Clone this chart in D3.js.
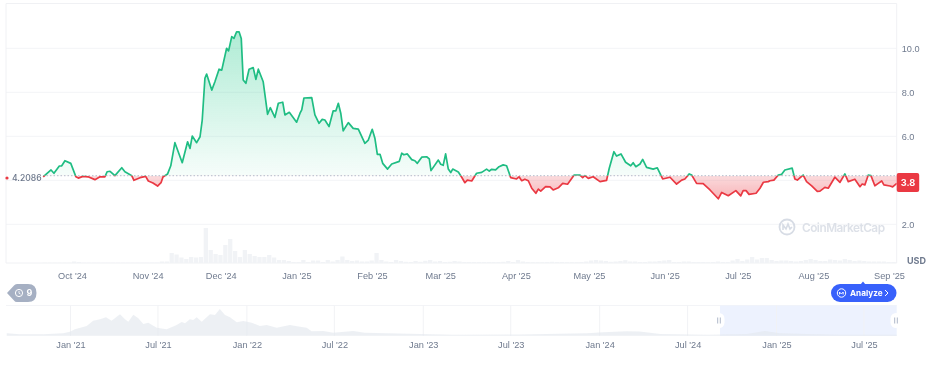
<!DOCTYPE html>
<html>
<head>
<meta charset="utf-8">
<script src="https://cdn.jsdelivr.net/npm/d3@7/dist/d3.min.js"></script>
<style>
  html, body { margin: 0; padding: 0; background: #fff; }
  svg { display: block; filter: blur(0.5px); font-family: Inter, "Noto Sans", sans-serif; }
  .tick text { fill: #6f7a8e; font-size: 9.2px; font-weight: 500; }
</style>
</head>
<body>
<div id="chart"></div>
<script>
// price readings: days counted from 1 Oct 2024, value in USD
const priceDays = [-11.8,-8.6,-7.4,-5.2,-4.2,-2.9,-0.5,1.6,2.6,4.5,6.6,9.4,11.5,13.5,14.4,15.6,17.6,20.4,21.7,24.5,25.4,27.9,30.2,31.3,33.2,35.1,36.5,37.3,39.2,40.5,42.2,45.2,47.4,48.4,49.3,51.1,52.5,53.4,54.5,55.2,57.3,58.6,60.3,61.4,63.4,64.2,65.5,66.4,67.5,68.5,69.4,70.2,71.3,72.6,74.3,75.4,76.4,78.4,80.2,81.3,83.2,84.6,86.4,87.3,89.1,92.1,93.5,94.2,95.1,98.3,99.6,101.3,102.6,103.7,105.4,107.1,108.2,109.2,110.2,111.2,113.3,115.3,117.4,120.1,121.5,123.1,124.2,125.2,126.3,127.4,129.4,131.1,134.2,135.2,136.1,137.5,139.3,140.6,141.6,143.4,145.4,146.5,147.2,150.2,151.2,152.2,153.2,154.3,155.3,156.1,158.4,159.8,161.1,162.1,163.9,165.9,168.0,170.0,171.1,172.1,173.7,175.1,176.8,178.2,179.9,182.3,183.3,184.4,185.7,187.1,188.5,190.2,191.2,192.2,194.2,196.0,197.3,199.4,201.2,203.2,205.9,208.3,209.4,210.3,211.7,213.7,216.5,219.2,220.3,222.2,223.3,225.1,227.0,229.1,230.1,231.2,232.9,234.0,235.6,238.3,240.0,242.2,245.2,247.9,250.0,251.3,253.1,254.1,256.1,258.8,261.6,265.0,266.4,269.1,272.2,274.2,275.2,276.4,277.6,280.5,282.1,283.5,285.5,286.2,287.8,289.6,291.0,292.3,295.3,296.4,297.4,299.8,301.2,303.3,305.6,306.7,308.7,310.1,312.8,314.9,316.9,318.3,321.0,323.1,324.0,325.1,326.5,327.6,329.2,330.6,332.0,332.9,335.4,336.5,338.2];
const priceValues = [4.16,4.47,4.32,4.65,4.66,4.89,4.77,4.16,4.10,4.18,4.16,4.03,4.16,4.16,4.39,4.41,4.21,4.57,4.39,4.21,4.00,4.12,4.18,3.97,3.88,3.74,3.89,4.15,4.29,4.66,5.71,4.80,5.75,5.45,6.01,5.71,5.98,6.74,8.64,8.83,8.10,8.48,9.05,9.01,10.00,9.88,10.53,10.45,10.75,10.75,10.45,8.56,8.41,9.05,9.12,8.59,9.05,8.48,7.00,7.30,6.86,7.50,7.55,6.97,7.09,6.64,7.05,7.20,7.74,7.76,6.97,6.59,6.77,6.74,6.44,7.16,7.16,7.50,7.05,6.25,6.62,6.36,6.33,5.68,5.83,6.32,5.91,5.18,5.18,4.77,4.51,4.74,4.86,5.23,5.16,5.20,4.94,4.89,4.77,5.05,5.07,4.97,4.44,4.92,4.73,4.68,5.20,4.51,4.35,4.51,4.38,4.14,3.89,4.01,3.97,4.32,4.36,4.51,4.42,4.50,4.47,4.62,4.70,4.66,4.12,4.06,4.16,3.98,4.05,3.98,3.64,3.41,3.60,3.51,3.71,3.70,3.56,3.66,3.86,3.82,4.24,4.24,4.12,4.21,4.09,4.16,3.94,4.00,4.55,5.30,5.10,5.20,4.82,4.66,4.80,4.62,4.74,4.95,4.59,4.51,4.57,4.06,4.14,3.83,4.01,4.06,4.29,4.24,3.86,3.85,3.56,3.16,3.45,3.30,3.53,3.29,3.53,3.53,3.36,3.41,3.64,3.91,3.94,3.98,4.01,4.24,4.27,4.47,4.55,4.06,4.01,4.24,3.94,3.75,3.50,3.51,3.68,3.64,4.14,3.91,4.29,3.94,4.05,3.71,3.83,3.79,4.24,4.21,3.75,3.86,3.97,3.79,3.74,3.70,3.86];

// volume readings in relative units, one bar per two days from day -12
const volumes = [.3,.3,.3,.3,.3,.3,1.5,1,.4,.4,.4,.4,.4,.4,.4,.4,.4,.4,.4,.4,.4,.4,.5,.5,1.5,1.5,10,8.5,5.5,4,6,5.5,6,35,13,9,8,18,24,12,6,13,9,7,6,6,8,5.5,3,3,2,1,1,3,1,2.5,2.5,1,3,1.5,3,6.5,3,2,2.5,1.5,1.5,2.5,10,3,1.5,1,3,2,1.2,1,2,1.2,2.2,3,1.5,2,1,1.2,2,1.5,1,1,1,1,1,1,1,1,1.2,2,1,3,1.5,1,.8,.8,.8,1,1.2,1,1,.8,.8,.8,1,1.5,2.5,3,2.5,2,1.2,1.5,2,2.8,1.5,1.5,1,1,1.5,1.5,2,2.5,3,1,1,1.5,1.5,1,1,1,.8,1,1.5,1,1,2.5,4,2,3.5,6,3.5,5,5,3,2,2.5,2.5,2,1.5,2,3,4,3,2,2,3.5,3,2.5,4,3,2,2.5,2,1.5,1.5,1.5,1.5,1,1];

// overview readings: days counted from 1 Jan 2021, value in USD
const overviewDays = [-132,-104.5,-56,-15,-1,9,33.5,47,61,73.5,85,102.4,112.8,119.6,130,140.3,150.6,161,178.4,199,219.7,230,237,247,254,261,271.5,288.6,299,309,319.7,330,344,357.5,375,392,406,426.6,454,475,488.7,499,523,544,585,609,655,723,792,930,1069,1102,1151,1178,1220,1317,1400,1437,1468,1524,1592,1710];
const overviewValues = [4.7,2.7,2.7,4.7,8,12.7,19.3,30,32.7,36.7,30,42.7,32.7,28,42,34.7,23.3,26,16,12.7,21.3,27.3,24.7,32.7,31.3,36.7,28,42.7,41.3,53.3,41.3,36.7,26.7,29.3,26,19.3,21.3,16,21.3,18,16,8.7,9.3,6,9.2,6,4.7,3.4,2,2.6,4.7,6.7,8.7,8.5,3.4,2,3.4,9.4,4.7,3.4,2,2];

const monthTicks = ["2024-10-01","2024-11-01","2024-12-01","2025-01-01","2025-02-01","2025-03-01","2025-04-01","2025-05-01","2025-06-01","2025-07-01","2025-08-01","2025-09-01"];
const overviewTicks = ["2021-01-01","2021-07-01","2022-01-01","2022-07-01","2023-01-01","2023-07-01","2024-01-01","2024-07-01","2025-01-01","2025-07-01"];
const yTicks = [2, 6, 8, 10];
const gridTicks = [2, 4, 6, 8, 10];
const basePrice = 4.2086;
const lastPrice = "3.8";

const DAY = 86400000;
const priceStart = Date.UTC(2024, 9, 1);
const overviewStart = Date.UTC(2021, 0, 1);

const plotLeft = 6, plotRight = 896.7, plotTop = 3.5, plotBottom = 263;
const green = "#1fbd83", red = "#ea3943", grid = "#f3f4f7";

const svg = d3.select("#chart").append("svg").attr("width", 940).attr("height", 369);

const x = d3.scaleUtc()
  .domain([new Date("2024-10-01"), new Date("2025-09-01")])
  .range([72, 889]);
const y = d3.scaleLinear().domain([2, 10]).range([224.3, 48.3]);
const yVol = d3.scaleLinear().domain([0, 40]).range([plotBottom, plotBottom - 40]);

const xo = d3.scaleUtc()
  .domain([new Date("2021-01-01"), new Date("2025-07-01")])
  .range([70.5, 864]);
const yo = d3.scaleLinear().domain([0, 60]).range([335.7, 305.7]);

const data = priceDays.map((d, i) => ({ date: new Date(priceStart + d * DAY), value: priceValues[i] }));
const overview = overviewDays.map((d, i) => ({ date: new Date(overviewStart + d * DAY), value: overviewValues[i] }));
const baseY = y(basePrice);

const defs = svg.append("defs");

const gradUp = defs.append("linearGradient").attr("id", "gradUp")
  .attr("gradientUnits", "userSpaceOnUse")
  .attr("x1", 0).attr("x2", 0).attr("y1", y(10.75)).attr("y2", baseY);
gradUp.append("stop").attr("offset", 0).attr("stop-color", "#16c784").attr("stop-opacity", 0.34);
gradUp.append("stop").attr("offset", 1).attr("stop-color", "#16c784").attr("stop-opacity", 0.04);

const gradDown = defs.append("linearGradient").attr("id", "gradDown")
  .attr("gradientUnits", "userSpaceOnUse")
  .attr("x1", 0).attr("x2", 0).attr("y1", baseY).attr("y2", y(3.16));
gradDown.append("stop").attr("offset", 0).attr("stop-color", red).attr("stop-opacity", 0.18);
gradDown.append("stop").attr("offset", 1).attr("stop-color", red).attr("stop-opacity", 0.38);

defs.append("clipPath").attr("id", "clipUp").append("rect")
  .attr("x", plotLeft).attr("y", 0).attr("width", plotRight - plotLeft).attr("height", baseY);
defs.append("clipPath").attr("id", "clipDown").append("rect")
  .attr("x", plotLeft).attr("y", baseY).attr("width", plotRight - plotLeft).attr("height", plotBottom - baseY);

// Frame and grid
svg.selectAll("line.grid")
  .data(gridTicks)
  .enter()
  .append("line")
  .attr("class", "grid")
  .attr("x1", plotLeft).attr("x2", plotRight)
  .attr("y1", d => y(d)).attr("y2", d => y(d))
  .attr("stroke", grid);

svg.append("path")
  .attr("d", `M${plotLeft},${plotBottom}V${plotTop}H${plotRight}V${plotBottom}H${plotLeft}`)
  .attr("fill", "none")
  .attr("stroke", "#f0f1f4");

// Volume bars
const volWidth = x(new Date(priceStart + 2 * DAY)) - x(new Date(priceStart));
svg.selectAll("rect.vol")
  .data(volumes)
  .enter()
  .append("rect")
  .attr("class", "vol")
  .attr("x", (d, i) => x(new Date(priceStart + (i * 2 - 12) * DAY)))
  .attr("width", volWidth - 0.6)
  .attr("y", d => yVol(d))
  .attr("height", d => yVol(0) - yVol(d))
  .attr("fill", "#f1f3f6");

// Watermark
const mark = svg.append("g").attr("transform", "translate(787,227)");
mark.append("circle").attr("r", 7.5).attr("fill", "none").attr("stroke", "#d7dce5").attr("stroke-width", 1.8);
mark.append("path").attr("d", "M-4,3V-2L-1,2L1,-3L3,2L5,0")
  .attr("fill", "none").attr("stroke", "#d7dce5").attr("stroke-width", 1.6);
svg.append("text")
  .attr("x", 802).attr("y", 231.5)
  .attr("font-size", 11.8).attr("font-weight", 600).attr("fill", "#dde1e8")
  .attr("textLength", 83)
  .text("CoinMarketCap");

// Price area and line, split at the reference price
const area = d3.area().x(d => x(d.date)).y0(baseY).y1(d => y(d.value));
const line = d3.line().x(d => x(d.date)).y(d => y(d.value));

svg.append("path").datum(data).attr("d", area).attr("fill", "url(#gradUp)").attr("clip-path", "url(#clipUp)");
svg.append("path").datum(data).attr("d", area).attr("fill", "url(#gradDown)").attr("clip-path", "url(#clipDown)");

svg.append("line")
  .attr("x1", 43).attr("x2", plotRight)
  .attr("y1", baseY).attr("y2", baseY)
  .attr("stroke", "#b4bccb")
  .attr("stroke-width", 1)
  .attr("stroke-dasharray", "1.5 2");

svg.append("path").datum(data).attr("d", line).attr("fill", "none")
  .attr("stroke", green).attr("stroke-width", 1.7).attr("stroke-linejoin", "round")
  .attr("clip-path", "url(#clipUp)");
svg.append("path").datum(data).attr("d", line).attr("fill", "none")
  .attr("stroke", red).attr("stroke-width", 1.7).attr("stroke-linejoin", "round")
  .attr("clip-path", "url(#clipDown)");

// X axis
svg.append("g")
  .attr("transform", `translate(0,${plotBottom})`)
  .call(d3.axisBottom(x)
    .tickValues(monthTicks.map(d => new Date(d)))
    .tickFormat(d3.utcFormat("%b '%y"))
    .tickSize(0).tickPadding(9))
  .call(g => g.select(".domain").remove());

// Y axis
svg.append("g")
  .attr("transform", `translate(${plotRight},0)`)
  .call(d3.axisRight(y)
    .tickValues(yTicks)
    .tickFormat(d3.format(".1f"))
    .tickSize(0).tickPadding(5))
  .call(g => g.select(".domain").remove());

svg.append("text")
  .attr("x", 907).attr("y", 264)
  .attr("font-size", 9).attr("font-weight", 700).attr("fill", "#6f7a8e")
  .text("USD");

// Last price tag
svg.append("rect")
  .attr("x", plotRight).attr("y", 173)
  .attr("width", 22.5).attr("height", 19)
  .attr("rx", 2)
  .attr("fill", red);
svg.append("text")
  .attr("x", 908).attr("y", 186)
  .attr("text-anchor", "middle")
  .attr("font-size", 9.2).attr("font-weight", 700).attr("fill", "#fff")
  .text(lastPrice);

// Reference price label
svg.append("circle").attr("cx", 7).attr("cy", 178).attr("r", 1.6).attr("fill", red);
svg.append("text")
  .attr("x", 12).attr("y", 181.3)
  .attr("font-size", 8.6).attr("font-weight", 500).attr("fill", "#6b768a")
  .text(basePrice.toFixed(4));

// Overview chart
svg.append("line")
  .attr("x1", plotLeft).attr("x2", plotRight)
  .attr("y1", 305.5).attr("y2", 305.5)
  .attr("stroke", grid);

svg.append("rect")
  .attr("x", 720).attr("y", 305.5)
  .attr("width", plotRight - 720).attr("height", 30.2)
  .attr("fill", "#edf2fe");

svg.selectAll("line.overviewGrid")
  .data(overviewTicks)
  .enter()
  .append("line")
  .attr("class", "overviewGrid")
  .attr("x1", d => xo(new Date(d))).attr("x2", d => xo(new Date(d)))
  .attr("y1", 305.5).attr("y2", 335.7)
  .attr("stroke", "#f1f2f5");

svg.append("path").datum(overview)
  .attr("d", d3.area().x(d => xo(d.date)).y0(yo(0)).y1(d => yo(d.value)))
  .attr("fill", "#e4e8ee")
  .attr("fill-opacity", 0.65);

svg.append("g")
  .attr("transform", "translate(0,335.7)")
  .call(d3.axisBottom(xo)
    .tickValues(overviewTicks.map(d => new Date(d)))
    .tickFormat(d3.utcFormat("%b '%y"))
    .tickSize(0).tickPadding(6))
  .call(g => g.select(".domain").remove());

// Range handles
[719, 896].forEach(cx => {
  const h = svg.append("g").attr("transform", `translate(${cx},320.5)`);
  h.append("rect")
    .attr("x", -5.5).attr("y", -7.5)
    .attr("width", 11).attr("height", 15)
    .attr("rx", 5.5)
    .attr("fill", "#fff");
  h.append("path").attr("d", "M-1.3,-3V3M1.3,-3V3").attr("stroke", "#a6b0c3").attr("stroke-width", 0.9);
});

// Events badge
const badge = svg.append("g");
badge.append("path")
  .attr("d", "M7,293L14,285.5Q15,284,17,284H28Q36.5,284,36.5,293Q36.5,302,28,302H17Q15,302,14,300.5Z")
  .attr("fill", "#a6b0c3");
badge.append("circle").attr("cx", 19).attr("cy", 293).attr("r", 3.6)
  .attr("fill", "none").attr("stroke", "#fff").attr("stroke-width", 1);
badge.append("path").attr("d", "M19,291V293.3L20.5,294").attr("fill", "none").attr("stroke", "#fff").attr("stroke-width", 0.8);
badge.append("text")
  .attr("x", 29.5).attr("y", 296.3)
  .attr("text-anchor", "middle")
  .attr("font-size", 9).attr("font-weight", 700).attr("fill", "#fff")
  .text("9");

// Analyze button
const btn = svg.append("g");
btn.append("path").attr("d", "M860.5,284.5L863,281.5L865.5,284.5Z").attr("fill", "#3861fb");
btn.append("rect")
  .attr("x", 831).attr("y", 284)
  .attr("width", 65.5).attr("height", 18)
  .attr("rx", 9)
  .attr("fill", "#3861fb");
btn.append("circle").attr("cx", 841.5).attr("cy", 293).attr("r", 4.2)
  .attr("fill", "none").attr("stroke", "#fff").attr("stroke-width", 1);
btn.append("path").attr("d", "M839.5,294.5V292L841.3,294L843.2,292V294.5")
  .attr("fill", "none").attr("stroke", "#fff").attr("stroke-width", 0.9);
btn.append("text")
  .attr("x", 850).attr("y", 296)
  .attr("font-size", 8.2).attr("font-weight", 700).attr("fill", "#fff")
  .text("Analyze");
btn.append("path").attr("d", "M885,290L888,293L885,296")
  .attr("fill", "none").attr("stroke", "#fff").attr("stroke-width", 1);
</script>
</body>
</html>
